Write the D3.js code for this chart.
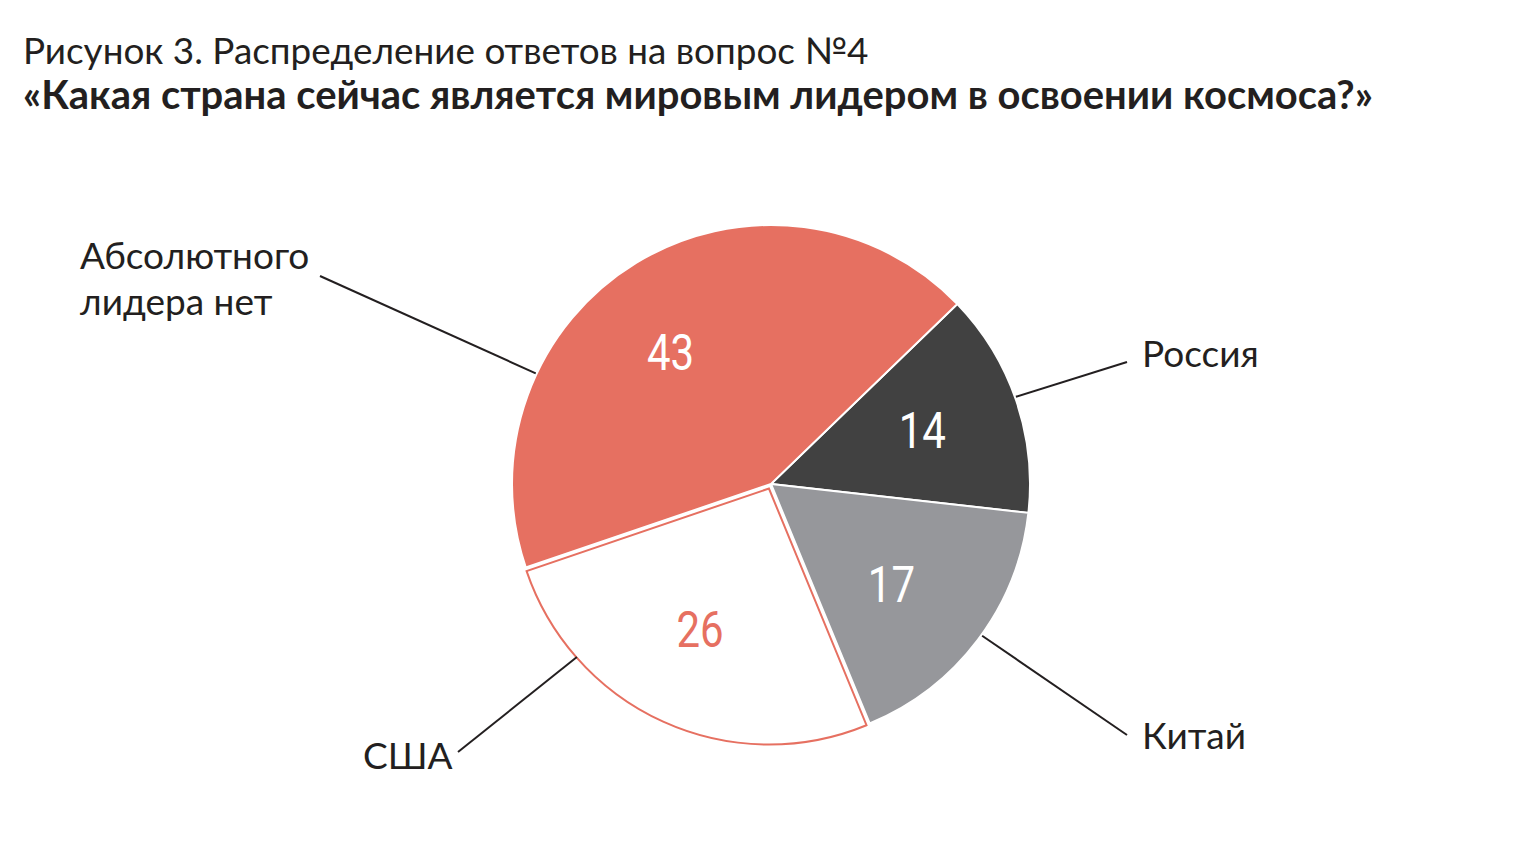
<!DOCTYPE html>
<html><head><meta charset="utf-8">
<script src="https://cdn.jsdelivr.net/npm/d3@7"></script>
<style>html,body{margin:0;padding:0;background:#fff;}svg{display:block;}</style>
</head><body>
<svg id="chart" width="1536" height="858"></svg>
<script>
// ---- data ----
const categories = ["Россия", "Китай", "США", "Абсолютного лидера нет"];
const values = [14, 17, 26, 43];
const labelLines = [["Россия"], ["Китай"], ["США"], ["Абсолютного", "лидера нет"]];
const titleLines = ["Рисунок 3. Распределение ответов на вопрос №4",
  "«Какая страна сейчас является мировым лидером в освоении космоса?»"];

// ---- style / layout ----
const fills = ["#414141", "#96979b", "#ffffff", "#e67061"];
const numColors = ["#ffffff", "#ffffff", "#e67061", "#ffffff"];
const red = "#e67061", ink = "#231f20";
const cx = 771, cy = 484, R = 259;
const startDeg = 46;
const explode = [0, 0, 5, 0];
const numNudge = [[-2, -1], [-9, 3], [-4, -2], [-16, 7]];
const leader = [
  {a: 70.4, x2: 1127, y2: 362, tx: 1142, ty: 367},
  {a: 125.7, x2: 1127, y2: 735, tx: 1142, ty: 749},
  {a: 228.3, x2: 458, y2: 752, tx: 363, ty: 769},
  {a: 295.2, x2: 320, y2: 276, tx: 80, ty: 269}
];

const svg = d3.select("#chart");
const font = "'Lato', 'Open Sans', sans-serif";

function fitText(sel, target) {
  const w = sel.node().getComputedTextLength();
  const fs = parseFloat(sel.attr("font-size"));
  sel.attr("font-size", fs * target / w);
}
const t1 = svg.append("text").attr("x", 23).attr("y", 64).attr("font-family", font)
  .attr("font-size", 34).attr("fill", ink).text(titleLines[0]);
fitText(t1, 846);
const t2 = svg.append("text").attr("x", 23).attr("y", 109).attr("font-family", font)
  .attr("font-weight", "bold").attr("font-size", 32).attr("fill", ink).text(titleLines[1]);
fitText(t2, 1350);

const pie = d3.pie().sort(null).value(d => d)
  .startAngle(startDeg * Math.PI / 180).endAngle(startDeg * Math.PI / 180 + 2 * Math.PI);
const arcs = pie(values);
const arc = d3.arc().innerRadius(0).outerRadius(R);
const arcUS = d3.arc().innerRadius(0).outerRadius(R - 3);
const labelArc = d3.arc().innerRadius(162).outerRadius(162);

const g = svg.append("g").attr("transform", `translate(${cx},${cy})`);
g.selectAll("path.slice").data(arcs).join("path")
  .attr("class", "slice")
  .attr("transform", (d, i) => {
    const m = (d.startAngle + d.endAngle) / 2;
    return `translate(${Math.sin(m) * explode[i]},${-Math.cos(m) * explode[i]})`;
  })
  .attr("d", (d, i) => i === 2 ? arcUS(d) : arc(d))
  .attr("fill", (d, i) => fills[i])
  .attr("stroke", (d, i) => i === 2 ? red : "#fff")
  .attr("stroke-width", 2)
  .attr("stroke-linejoin", "miter");

g.selectAll("text.num").data(arcs).join("text")
  .attr("class", "num")
  .attr("transform", (d, i) => {
    const c = labelArc.centroid(d);
    return `translate(${c[0] + numNudge[i][0]},${c[1] + numNudge[i][1]}) scale(0.84,1)`;
  })
  .attr("text-anchor", "middle").attr("dy", "0.35em")
  .attr("font-family", "Roboto, sans-serif").attr("font-size", 50)
  .attr("fill", (d, i) => numColors[i])
  .text(d => d.data);

leader.forEach((L, i) => {
  const a = L.a * Math.PI / 180;
  const x1 = cx + Math.sin(a) * (R + 1), y1 = cy - Math.cos(a) * (R + 1);
  svg.append("line").attr("x1", x1).attr("y1", y1).attr("x2", L.x2).attr("y2", L.y2)
    .attr("stroke", ink).attr("stroke-width", 2);
  const t = svg.append("text").attr("x", L.tx).attr("y", L.ty)
    .attr("font-family", font).attr("font-size", 37).attr("fill", ink);
  labelLines[i].forEach((s, k) => {
    t.append("tspan").attr("x", L.tx).attr("dy", k === 0 ? 0 : 46).text(s);
  });
});
</script>
</body></html>
